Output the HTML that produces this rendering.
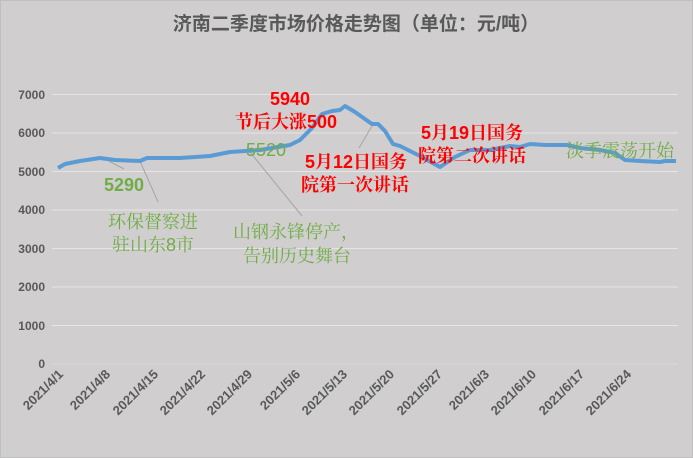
<!DOCTYPE html>
<html><head><meta charset="utf-8"><style>
body{margin:0;background:#fff}
svg{display:block}
</style></head><body>
<svg width="693" height="458" xmlns="http://www.w3.org/2000/svg" font-family="Liberation Sans, Noto Sans CJK SC, sans-serif">
<rect x="0.5" y="0.5" width="692" height="457" fill="#d0cece" stroke="#bfbfbf"/>
<text x="356" y="30" text-anchor="middle" font-size="19" font-weight="bold" fill="#595959">济南二季度市场价格走势图（单位：元/吨）</text>
<g stroke="#e6e4e4" stroke-width="1">
<line x1="52" x2="678" y1="94.5" y2="94.5"/><line x1="52" x2="678" y1="133" y2="133"/><line x1="52" x2="678" y1="171.5" y2="171.5"/><line x1="52" x2="678" y1="210" y2="210"/><line x1="52" x2="678" y1="248.5" y2="248.5"/><line x1="52" x2="678" y1="287" y2="287"/><line x1="52" x2="678" y1="325.5" y2="325.5"/><line x1="52" x2="678" y1="364" y2="364" stroke="#d9d9d9"/>
</g>
<g font-size="12" font-weight="bold" fill="#595959" text-anchor="end">
<text x="45" y="99">7000</text><text x="45" y="137">6000</text><text x="45" y="176">5000</text><text x="45" y="214">4000</text><text x="45" y="253">3000</text><text x="45" y="291">2000</text><text x="45" y="330">1000</text><text x="45" y="368">0</text>
</g>
<g font-size="13" font-weight="bold" fill="#595959" text-anchor="end">
<text transform="translate(64,375) rotate(-45)">2021/4/1</text>
<text transform="translate(111,375) rotate(-45)">2021/4/8</text>
<text transform="translate(159,375) rotate(-45)">2021/4/15</text>
<text transform="translate(206,375) rotate(-45)">2021/4/22</text>
<text transform="translate(253,375) rotate(-45)">2021/4/29</text>
<text transform="translate(301,375) rotate(-45)">2021/5/6</text>
<text transform="translate(348,375) rotate(-45)">2021/5/13</text>
<text transform="translate(395,375) rotate(-45)">2021/5/20</text>
<text transform="translate(443,375) rotate(-45)">2021/5/27</text>
<text transform="translate(490,375) rotate(-45)">2021/6/3</text>
<text transform="translate(537,375) rotate(-45)">2021/6/10</text>
<text transform="translate(585,375) rotate(-45)">2021/6/17</text>
<text transform="translate(632,375) rotate(-45)">2021/6/24</text>
</g>
<g stroke="#a6a6a6" stroke-width="1">
<line x1="105" y1="159" x2="124" y2="169"/><line x1="140" y1="161" x2="158" y2="202"/><line x1="250" y1="152" x2="302" y2="216"/><line x1="372" y1="126" x2="359" y2="148"/>
</g>
<polyline fill="none" stroke="#5b9bd5" stroke-width="4" stroke-linejoin="round" points="58,168 65,164 80,161 100,158 115,160 140,161 147,158 180,158 210,156 230,152 245,151 260,150 290,145 300,140 312,128 322,114 332,111 340,110 345,106 355,112 372,124 378,124 385,131 393,144 400,146 420,156 440,167 455,157 470,150 490,150 510,146 520,147 530,144 545,145 567,145 580,148 600,150 615,153 625,160 640,161 660,162 665,161 676,161"/>
<g font-weight="bold" fill="#ff0000" font-size="18" font-family="Liberation Sans, Noto Serif CJK SC, serif">
<text x="270" y="105">5940</text>
<text x="235" y="128">节后大涨500</text>
<text x="305" y="168">5月12日国务</text>
<text x="301" y="191">院第一次讲话</text>
<text x="421" y="139">5月19日国务</text>
<text x="418" y="162">院第二次讲话</text>
</g>
<g fill="#70ad47" font-size="18" font-family="Liberation Sans, Noto Serif CJK SC, serif">
<text x="104" y="191" font-weight="bold">5290</text>
<text x="246" y="156">5520</text>
<text x="108" y="228">环保督察进</text>
<text x="112" y="251">驻山东8市</text>
<text x="233" y="238">山钢永锋停产，</text>
<text x="243" y="262">告别历史舞台</text>
<text x="566" y="157">淡季震荡开始</text>
</g>
</svg>
</body></html>
